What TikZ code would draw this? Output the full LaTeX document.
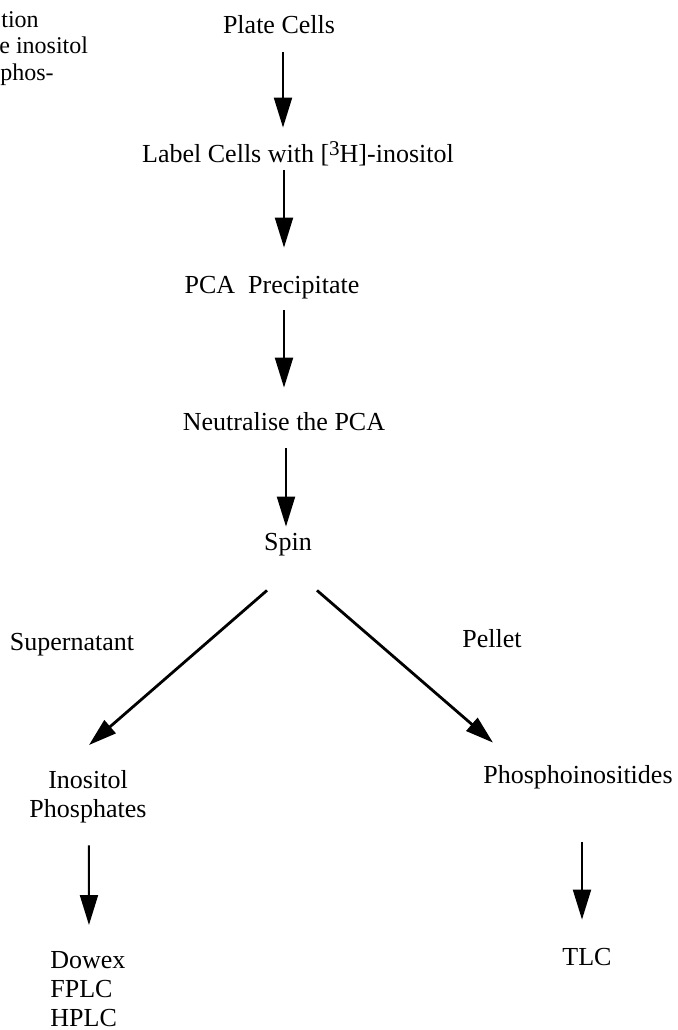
\documentclass[tikz,border=0pt]{standalone}
\usepackage{fontspec}
\setmainfont{Liberation Serif}
\usetikzlibrary{arrows.meta,positioning}

\tikzset{
  stage/.style={inner sep=0pt,anchor=base,text height=10pt,text depth=3pt,font=\fontsize{13}{14.5}\selectfont},
  stagelist/.style={inner sep=0pt,font=\fontsize{13}{14.5}\selectfont},
  flow/.style={line width=1pt,-{Triangle[length=15pt,width=9pt]}},
  split/.style={line width=1.4pt,-{Triangle[length=14pt,width=8.5pt]}},
  clipped/.style={inner sep=0pt,anchor=base west,font=\fontsize{12}{13}\selectfont}
}

\begin{document}
\begin{tikzpicture}[x=.5pt,y=-.5pt]
  \useasboundingbox (0,0) rectangle (678,1030);
  % caption of the next column, cut off
  \node[clipped] (cap1) at (1,27) {tion};
  \node[clipped] (cap2) at (-1,53) {e inositol};
  \node[clipped] (cap3) at (0,80) {phos-};

  \node[stage] (plate) at (279,33) {Plate Cells};
  \node[stage] (label) at (298,162) {Label Cells with [\raisebox{3.3pt}{\fontsize{10.5}{10.5}\selectfont 3}H]-inositol};
  \node[stage] (pca) at (272,293) {PCA\ \ Precipitate};
  \node[stage] (neut) at (284,430) {Neutralise the PCA};
  \node[stage] (spin) at (288,550) {Spin};
  \node[stage] (super) at (72,650) {Supernatant};
  \node[stage] (pellet) at (492,647) {Pellet};
  \node[stagelist,align=center,anchor=north] (inos) at (88,770) {Inositol\\Phosphates};
  \node[stage] (phos) at (578,783) {Phosphoinositides};
  \node[stagelist,align=left,anchor=north west] (dowex) at (50,951) {Dowex\\FPLC\\HPLC};
  \node[stage] (tlc) at (587,965) {TLC};

  \foreach \a/\ax/\sa/\b/\bx/\sb in {plate/2/6.5/label/-7.5/7,label/-7/1/pca/6/12.5,
      pca/6/5.5/neut/0/11,neut/1/6/spin/-1/1.5}
    \draw[flow,shorten <=\sa pt,shorten >=\sb pt] ([xshift=\ax pt]\a.south) -- ([xshift=\bx pt]\b.north);

  \draw[split] ([xshift=-10.5pt,yshift=-17pt]spin.south) -- ([xshift=.5pt,yshift=12.5pt]inos.north);
  \draw[split] ([xshift=14.5pt,yshift=-17pt]spin.south) -- ([xshift=-42.5pt,yshift=10pt]phos.north);

  \draw[flow,shorten <=11pt,shorten >=13pt] ([xshift=.5pt]inos.south) -- ([xshift=.5pt]dowex.north);
  \draw[flow,shorten <=26.5pt,shorten >=12.5pt] ([xshift=2pt]phos.south) -- ([xshift=-2.5pt]tlc.north);
\end{tikzpicture}
\end{document}
